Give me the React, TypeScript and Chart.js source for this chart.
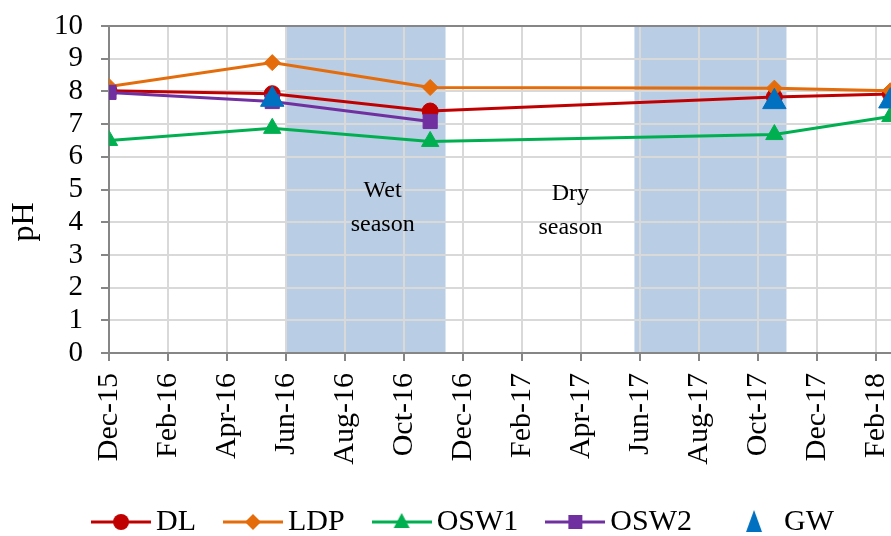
import React, { useEffect, useRef } from 'react';
import { Chart, registerables } from 'chart.js';

Chart.register(...registerables);

// ---------- data ----------
const monthNames = ['Jan', 'Feb', 'Mar', 'Apr', 'May', 'Jun', 'Jul', 'Aug', 'Sep', 'Oct', 'Nov', 'Dec'];
// sampling dates, in months counted from Dec-15
const sampleMonths = [0, 5.53, 10.88, 22.54, 26.47];
const seriesNames = ['DL', 'LDP', 'OSW1', 'OSW2', 'GW'];
const dlValues = [8.02, 7.93, 7.4, 7.83, 7.92];
const ldpValues = [8.15, 8.88, 8.12, 8.1, 8.02];
const osw1Values = [6.5, 6.87, 6.47, 6.68, 7.23];
const osw2Values = [7.97, 7.69, 7.08, null, null];
const gwValues = [null, 7.75, null, 7.68, 7.7];
// shaded (wet season) bands, months from Dec-15
const wetStart = [6, 17.8];
const wetEnd = [11.4, 22.95];
// season annotations
const seasonLines = [['Wet', 'season'], ['Dry', 'season']];
const seasonMonth = [9.27, 15.63];
const seasonValue = [4.78, 4.67];
const yTitle = 'pH';
const xMin = 0;
const xMax = 27.66;

const FONT = "'Liberation Serif', 'Times New Roman', serif";

const monthLabel = (v: number) => {
  const idx = 11 + v;
  return `${monthNames[idx % 12]}-${15 + Math.floor(idx / 12)}`;
};

const toPoints = (vals: (number | null)[]) =>
  sampleMonths.map((m, i) => ({ x: m, y: vals[i] as any }));

function makeLegendImage(color: string, style: string, withLine: boolean, markerX: number) {
  const c = document.createElement('canvas');
  c.width = 60;
  c.height = 30;
  const g = c.getContext('2d')!;
  const cy = 15;
  if (withLine) {
    g.strokeStyle = color;
    g.lineWidth = 3;
    g.beginPath();
    g.moveTo(0, cy);
    g.lineTo(60, cy);
    g.stroke();
  }
  g.fillStyle = color;
  g.beginPath();
  const x = markerX;
  if (style === 'circle') {
    g.arc(x, cy, 8, 0, Math.PI * 2);
  } else if (style === 'diamond') {
    g.moveTo(x, cy - 8);
    g.lineTo(x + 8, cy);
    g.lineTo(x, cy + 8);
    g.lineTo(x - 8, cy);
    g.closePath();
  } else if (style === 'triangle') {
    g.moveTo(x, cy - 9);
    g.lineTo(x + 8, cy + 6);
    g.lineTo(x - 8, cy + 6);
    g.closePath();
  } else if (style === 'square') {
    g.rect(x - 7, cy - 7, 14, 14);
  } else if (style === 'bigTriangle') {
    g.moveTo(x, cy - 12);
    g.lineTo(x + 8, cy + 10);
    g.lineTo(x - 8, cy + 10);
    g.closePath();
  }
  g.fill();
  return c;
}

const seasonPlugin = {
  id: 'seasonPlugin',
  beforeDraw(chart: any) {
    const { ctx, scales } = chart;
    const xs = scales.x;
    const ys = scales.y;
    const top = ys.getPixelForValue(10);
    const bottom = ys.getPixelForValue(0);
    ctx.save();
    ctx.fillStyle = '#B9CDE5';
    for (let i = 0; i < wetStart.length; i++) {
      const x0 = xs.getPixelForValue(wetStart[i]);
      const x1 = xs.getPixelForValue(wetEnd[i]);
      ctx.fillRect(x0, top, x1 - x0, bottom - top);
    }
    ctx.restore();
  },
  beforeDatasetsDraw(chart: any) {
    const { ctx, scales } = chart;
    ctx.save();
    ctx.fillStyle = '#000';
    ctx.font = `24px ${FONT}`;
    ctx.textAlign = 'center';
    ctx.textBaseline = 'alphabetic';
    for (let i = 0; i < seasonLines.length; i++) {
      const x = scales.x.getPixelForValue(seasonMonth[i]);
      const y = scales.y.getPixelForValue(seasonValue[i]);
      seasonLines[i].forEach((t, j) => ctx.fillText(t, x, y + j * 34));
    }
    ctx.restore();
  },
  afterDraw(chart: any) {
    const { ctx } = chart;
    ctx.save();
    ctx.fillStyle = '#000';
    ctx.font = `32px ${FONT}`;
    ctx.translate(33, 222);
    ctx.rotate(-Math.PI / 2);
    ctx.textAlign = 'center';
    ctx.textBaseline = 'alphabetic';
    ctx.fillText(yTitle, 0, 0);
    ctx.restore();
  },
};

export default function App() {
  const ref = useRef<HTMLCanvasElement>(null);

  useEffect(() => {
    if (!ref.current) return;
    const colors = ['#C00000', '#E46C0A', '#00B050', '#7030A0', '#0070C0'];
    const legendImgs = [
      makeLegendImage(colors[0], 'circle', true, 30),
      makeLegendImage(colors[1], 'diamond', true, 30),
      makeLegendImage(colors[2], 'triangle', true, 30),
      makeLegendImage(colors[3], 'square', true, 30),
      makeLegendImage(colors[4], 'bigTriangle', false, 35),
    ];
    const base = (i: number) => ({
      label: seriesNames[i],
      borderColor: colors[i],
      backgroundColor: colors[i],
      pointBackgroundColor: colors[i],
      pointBorderColor: colors[i],
      borderWidth: 3,
      pointBorderWidth: 1,
      tension: 0,
    });
    const chart = new Chart(ref.current, {
      type: 'line',
      data: {
        datasets: [
          { ...base(0), data: toPoints(dlValues), pointStyle: 'circle', pointRadius: 8, order: 4 },
          { ...base(1), data: toPoints(ldpValues), pointStyle: 'rectRot', pointRadius: 8, order: 3 },
          { ...base(2), data: toPoints(osw1Values), pointStyle: 'triangle', pointRadius: 10, order: 2 },
          { ...base(3), data: toPoints(osw2Values), pointStyle: 'rect', pointRadius: 10, order: 1 },
          { ...base(4), data: toPoints(gwValues), pointStyle: 'triangle', pointRadius: 13.5, showLine: false, order: 0 },
        ] as any,
      },
      options: {
        animation: false,
        responsive: false,
        events: [],
        layout: { padding: { left: 0, top: 26, right: 5, bottom: 0 } },
        scales: {
          x: {
            type: 'linear',
            min: xMin,
            max: xMax,
            afterFit: (s: any) => { s.height = 117; },
            ticks: {
              stepSize: 2,
              includeBounds: false,
              autoSkip: false,
              maxRotation: 90,
              minRotation: 90,
              padding: 12,
              color: '#000',
              font: { family: FONT, size: 30 },
              callback: (v: any) => (Number.isInteger(v) && v % 2 === 0 ? monthLabel(v) : ''),
            },
            grid: { color: '#D9D9D9', lineWidth: 2, tickColor: '#868686', tickLength: 8, tickWidth: 2 },
            border: { color: '#868686', width: 2 },
          },
          y: {
            min: 0,
            max: 10,
            afterFit: (s: any) => {
              s.width = 109;
              s.paddingTop = 0;
              s.paddingBottom = 0;
            },
            ticks: {
              stepSize: 1,
              autoSkip: false,
              padding: 18,
              color: '#000',
              font: { family: FONT, size: 29 },
            },
            grid: {
              color: (c: any) => (c.tick && c.tick.value === 10 ? '#868686' : '#D9D9D9'),
              lineWidth: 2,
              tickColor: '#868686',
              tickLength: 8,
              tickWidth: 2,
            },
            border: { color: '#868686', width: 2 },
          },
        },
        plugins: {
          tooltip: { enabled: false },
          legend: {
            position: 'bottom',
            labels: {
              usePointStyle: true,
              pointStyleWidth: 40,
              boxHeight: 30,
              padding: 37,
              color: '#000',
              font: { family: FONT, size: 30 },
              generateLabels: (ch: any) =>
                ch.data.datasets.map((ds: any, i: number) => ({
                  text: ds.label,
                  pointStyle: legendImgs[i],
                  fillStyle: colors[i],
                  strokeStyle: colors[i],
                  lineWidth: 0,
                  hidden: false,
                  datasetIndex: i,
                })),
            },
          },
        },
      } as any,
      plugins: [seasonPlugin],
    });
    return () => chart.destroy();
  }, []);

  return (
    <div style={{ position: 'absolute', left: 0, top: 0, width: 891, height: 536, overflow: 'hidden', background: '#fff' }}>
      <canvas ref={ref} width={940} height={547} style={{ display: 'block', width: 940, height: 547 }} />
    </div>
  );
}
